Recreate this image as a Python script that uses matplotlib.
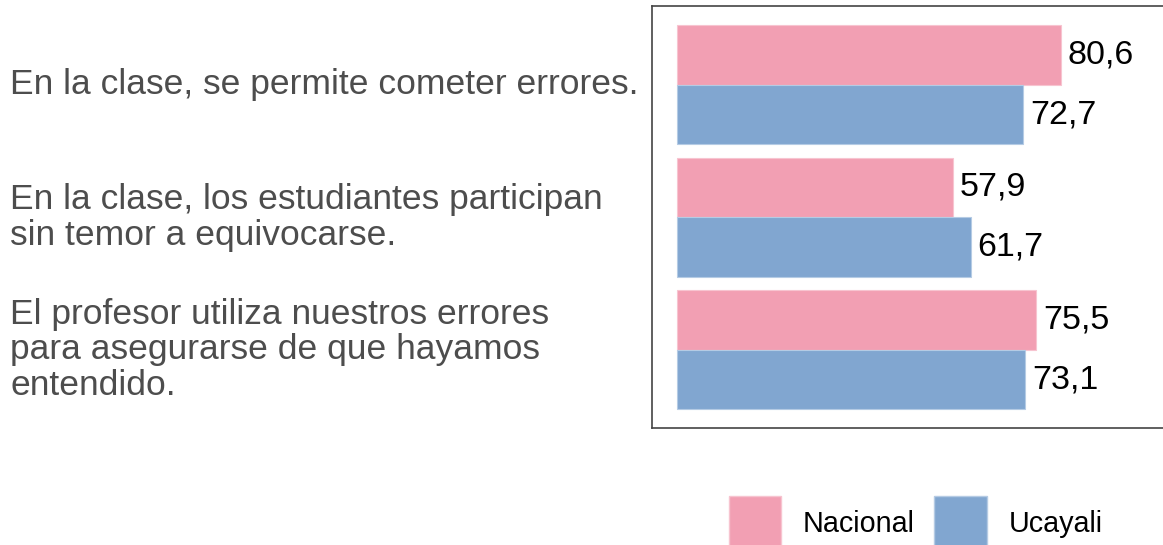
import matplotlib.pyplot as plt
import matplotlib.transforms as mtransforms
from matplotlib.patches import Patch
import numpy as np

plt.rcParams['font.family'] = ['Liberation Sans', 'DejaVu Sans']

# Datos de la gráfica
categorias = [
    "En la clase, se permite cometer errores.",
    "En la clase, los estudiantes participan\nsin temor a equivocarse.",
    "El profesor utiliza nuestros errores\npara asegurarse de que hayamos\nentendido.",
]
series = ["Nacional", "Ucayali"]
nacional = [80.6, 57.9, 75.5]
ucayali = [72.7, 61.7, 73.1]

COLOR_NAC = "#F29FB3"
COLOR_UCA = "#81A6D0"

fig = plt.figure(figsize=(11.63, 5.45), dpi=100)
ax = fig.add_axes([652 / 1163, 1 - 428 / 545, (1166 - 652) / 1163, 422 / 545])

y = np.arange(len(categorias))
alto = 0.45
ax.barh(y - alto / 2, nacional, height=alto, color=COLOR_NAC, edgecolor="#F7C4D0", linewidth=0.8)
ax.barh(y + alto / 2, ucayali, height=alto, color=COLOR_UCA, edgecolor="#B5CBE4", linewidth=0.8)

# Etiquetas de valor con coma decimal
for i in range(len(categorias)):
    for val, pos in ((nacional[i], y[i] - alto / 2), (ucayali[i], y[i] + alto / 2)):
        ax.annotate(f"{val:.1f}".replace(".", ","), xy=(val, pos), xytext=(5, 0),
                    textcoords="offset points", va="center", ha="left",
                    fontsize=24.5, color="black")

ax.set_xlim(-5.25, 102.7)
ax.set_ylim(2.59, -0.594)
ax.set_xticks([])
ax.set_yticks([])
for s in ax.spines.values():
    s.set_color("#444444")
    s.set_linewidth(1.2)

# Textos de las categorías a la izquierda
trans = mtransforms.blended_transform_factory(fig.transFigure, ax.transData)
for i, cat in enumerate(categorias):
    fig.text(10 / 1163, y[i], cat, transform=trans, ha="left", va="center",
             fontsize=25.5, color="#4D4D4D", linespacing=1.1)

handles = [Patch(facecolor=COLOR_NAC, edgecolor="#F7C4D0"),
           Patch(facecolor=COLOR_UCA, edgecolor="#B5CBE4")]
fig.legend(handles, series, loc="center", bbox_to_anchor=(915.5 / 1163, 1 - 523 / 545),
           ncol=2, frameon=False, fontsize=20.7, handlelength=1.84, handleheight=2.5,
           handletextpad=0.73, columnspacing=0.7, borderpad=0)

fig.savefig("out.png", dpi=100)
